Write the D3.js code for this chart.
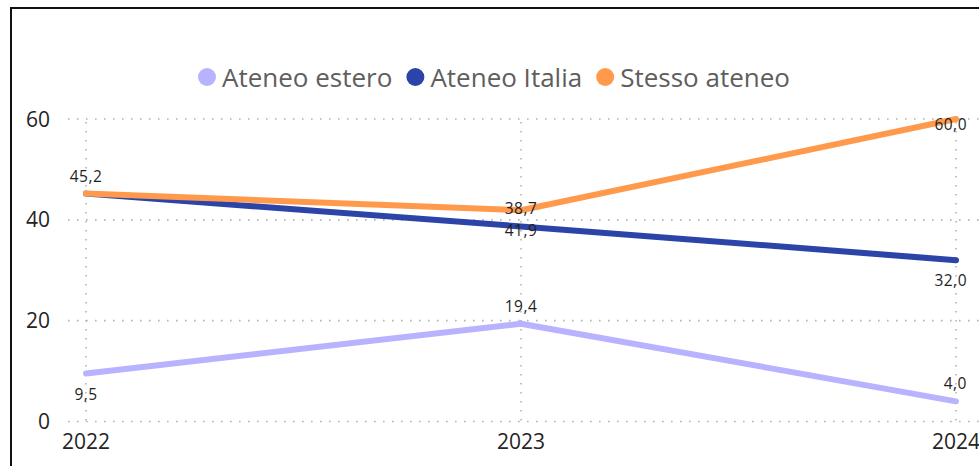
<script src="https://cdn.jsdelivr.net/npm/d3@7"></script>
<style>
  body { margin: 0; background: #fff; }
  text { font-family: "Open Sans", "Segoe UI", sans-serif; }
</style>
<svg width=979 height=466></svg>
<script>
var years = ["2022", "2023", "2024"]
var seriesNames = ["Ateneo estero", "Ateneo Italia", "Stesso ateneo"]
var estero = [9.5, 19.4, 4.0]
var italia = [45.2, 38.7, 32.0]
var stesso = [45.2, 41.9, 60.0]
var yTicks = [0, 20, 40, 60]
// where each data label sits relative to its point (null = hidden)
var esteroLabel = ["below", "above", "above"]
var italiaLabel = [null, "above", "below"]
var stessoLabel = ["above", "below", "center"]

var colors = ["#B7B3FF", "#2C44A8", "#FF9A4D"]
var series = [estero, italia, stesso]
var labelPlaces = [esteroLabel, italiaLabel, stessoLabel]

var svg = d3.select('svg')

  // frame
  svg.append('rect')
    .attr('x', 11).attr('y', 8)
    .attr('width', 1000).attr('height', 500)
    .attr('fill', 'none')
    .attr('stroke', '#111')
    .attr('stroke-width', 2)

var x = d3.scalePoint().domain(years).range([86, 956])
var y = d3.scaleLinear().domain([0, 60]).range([421.5, 119])

  // horizontal grid
  svg.append('g').selectAll('line')
    .data(yTicks)
    .join('line')
    .attr('x1', 68).attr('x2', 979)
    .attr('y1', d => y(d)).attr('y2', d => y(d))
    .attr('stroke', '#b3b3b3')
    .attr('stroke-width', 1.6)
    .attr('stroke-dasharray', '1.6,7.4')

  // vertical grid
  svg.append('g').selectAll('line')
    .data(years)
    .join('line')
    .attr('x1', d => x(d)).attr('x2', d => x(d))
    .attr('y1', y(60) + 3).attr('y2', y(0) + 5)
    .attr('stroke', '#b3b3b3')
    .attr('stroke-width', 1.6)
    .attr('stroke-dasharray', '1.6,7.4')

  // y axis labels
  svg.append('g').selectAll('text')
    .data(yTicks)
    .join('text')
    .attr('x', 50)
    .attr('y', d => y(d) + 7.5)
    .attr('text-anchor', 'end')
    .attr('font-size', 21)
    .attr('fill', '#252423')
    .text(d => d)

  // x axis labels
  svg.append('g').selectAll('text')
    .data(years)
    .join('text')
    .attr('x', d => x(d))
    .attr('y', 449)
    .attr('text-anchor', 'middle')
    .attr('font-size', 21)
    .attr('fill', '#252423')
    .text(d => d)

var line = d3.line()
  .x((d, i) => x(years[i]))
  .y(d => y(d))

  // lines
  svg.append('g').selectAll('path')
    .data(series)
    .join('path')
    .attr('d', d => line(d))
    .attr('fill', 'none')
    .attr('stroke', (d, i) => colors[i])
    .attr('stroke-width', 6)
    .attr('stroke-linecap', 'round')
    .attr('stroke-linejoin', 'round')

var fmt = v => d3.format('.1f')(v).replace('.', ',')
var dy = { above: -12, below: 26, center: 11 }

  // data labels
  series.forEach(function(s, si) {
    svg.append('g').selectAll('text')
      .data(s.map((v, i) => ({ v: v, i: i, place: labelPlaces[si][i] })).filter(d => d.place))
      .join('text')
      .attr('x', d => d.i == years.length - 1 ? x(years[d.i]) + 11 : x(years[d.i]))
      .attr('y', d => y(d.v) + dy[d.place])
      .attr('text-anchor', d => d.i == years.length - 1 ? 'end' : 'middle')
      .attr('font-size', 15.5)
      .attr('letter-spacing', 0.5)
      .attr('fill', '#1f1f1f')
      .text(d => fmt(d.v))
  })

  // legend
var legend = svg.append('g')
var lx = 0
  seriesNames.forEach(function(name, i) {
    var g = legend.append('g').attr('transform', 'translate(' + lx + ',0)')
    g.append('circle').attr('cx', 0).attr('cy', 0).attr('r', 9).attr('fill', colors[i])
    var t = g.append('text')
      .attr('x', 15).attr('y', 10)
      .attr('font-size', 26)
      .attr('fill', '#605E5C')
      .text(name)
    lx += 15 + t.node().getComputedTextLength() + 23
  })
  legend.attr('transform', 'translate(' + (207) + ',77)')
</script>
